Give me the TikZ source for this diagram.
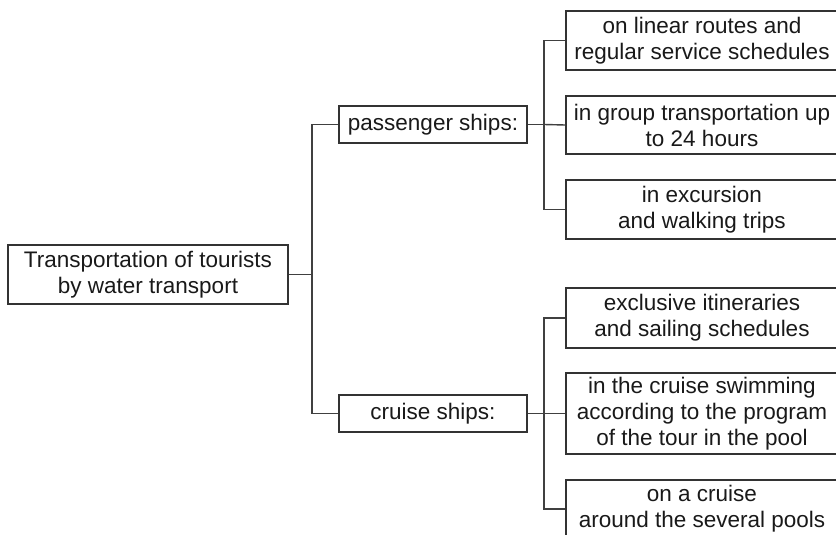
\documentclass[tikz,border=0pt]{standalone}
\usepackage{fontspec}
\setmainfont{Liberation Sans}

\begin{document}
\begin{tikzpicture}[x=0.5pt, y=-0.5pt,
    box/.style={draw=black!80, line width=0.7pt, align=center, inner sep=0pt, text=black!90, font=\fontsize{11.25}{13}\selectfont},
    link/.style={draw=black!75, line width=0.7pt},]
    \clip (0,0) rectangle (836,535);
    %Nodes
    \node[box, minimum width=140pt, minimum height=29.5pt] (root) at (148,274.5) {Transportation of tourists\\by water transport};
    \node[box, minimum width=94pt, minimum height=18.5pt] (passenger) at (433,124.5) {passenger ships:};
    \node[box, minimum width=94pt, minimum height=18.5pt] (cruise) at (433,413.5) {cruise ships:};

    \node[box, minimum width=136pt, minimum height=29.5pt] (linear) at (702,40.5) {on linear routes and\\regular service schedules};
    \node[box, minimum width=136pt, minimum height=29pt] (group) at (702,125) {in group transportation up\\to 24 hours};
    \node[box, minimum width=136pt, minimum height=29.5pt] (excursion) at (702,209.5) {in excursion\\and walking trips};

    \node[box, minimum width=136pt, minimum height=30pt] (exclusive) at (702,318) {exclusive itineraries\\and sailing schedules};
    \node[box, minimum width=136pt, minimum height=40.5pt] (swimming) at (702,413.5) {in the cruise swimming\\according to the program\\of the tour in the pool};
    \node[box, minimum width=136pt, minimum height=29pt] (pools) at (702,509) {on a cruise\\around the several pools};

    \coordinate (fork) at (312,274.5);
    \coordinate (forkp) at (544,124.5);
    \coordinate (forkc) at (544,413.5);

    % %Lines
    \draw[link] (root.east) -- (fork);
    \draw[link] (fork) |- (passenger.west);
    \draw[link] (fork) |- (cruise.west);

    \draw[link] (passenger.east) -- (forkp);
    \draw[link] (forkp) |- (linear.west);
    \draw[link] (forkp) -- (group.west);
    \draw[link] (forkp) |- (excursion.west);

    \draw[link] (cruise.east) -- (forkc);
    \draw[link] (forkc) |- (exclusive.west);
    \draw[link] (forkc) -- (swimming.west);
    \draw[link] (forkc) |- (pools.west);
\end{tikzpicture}
\end{document}
